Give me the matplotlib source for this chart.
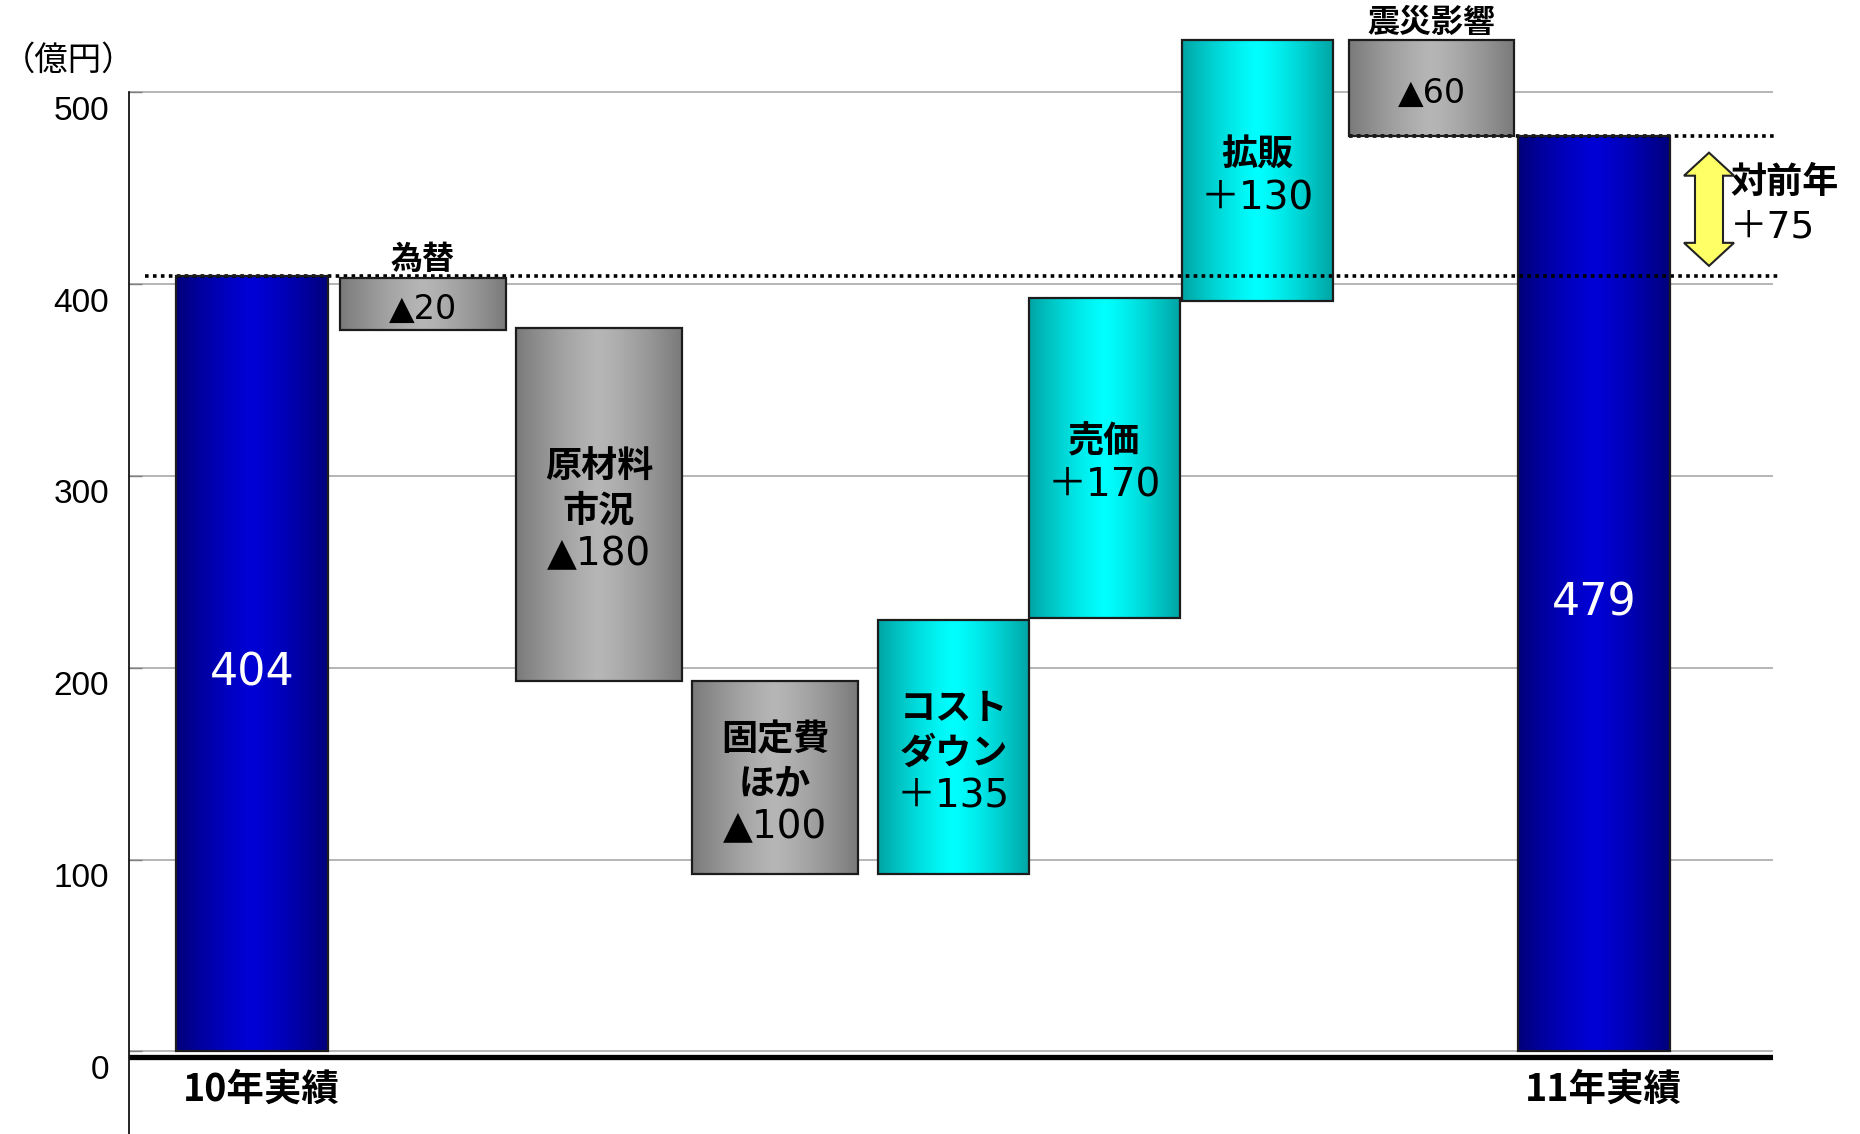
import matplotlib
matplotlib.use('Agg')
import matplotlib.pyplot as plt
import numpy as np
from matplotlib.patches import Rectangle, Polygon
from matplotlib.transforms import ScaledTranslation
from matplotlib.colors import to_rgb

# ---------------- data ----------------
categories = ['10年実績', '為替', '原材料市況', '固定費ほか', 'コストダウン',
              '売価', '拡販', '震災影響', '11年実績']
bar_low = [0, 376, 193, 92.5, 92.5, 226, 391, 477, 0]
bar_high = [404, 403, 377, 193, 225, 393, 527, 527, 477]
kinds = ['total', 'neg', 'neg', 'neg', 'pos', 'pos', 'pos', 'neg', 'total']
value_labels = ['404', '▲20', '▲180', '▲100', '＋135', '＋170', '＋130', '▲60', '479']
inner_names = ['', '', '原材料\n市況', '固定費\nほか', 'コスト\nダウン', '売価', '拡販', '', '']
top_names = ['', '為替', '', '', '', '', '', '震災影響', '']
bottom_names = ['10年実績', '', '', '', '', '', '', '', '11年実績']
yoy_title = '対前年'
yoy_value = '＋75'
y_ticks = [0, 100, 200, 300, 400, 500]
unit_label = '（億円）'

# ---------------- layout (pixels inside axes) ----------------
x_center = [123, 294, 470, 646, 824.5, 975.5, 1128.5, 1302.5, 1465]
widths = [152, 166, 166, 166, 151, 151, 151, 165, 152]

JP = ['Noto Sans CJK JP', 'DejaVu Sans']
NUM = ['DejaVu Sans', 'Noto Sans CJK JP']

palette = {
    'total': ('#00007a', '#0000d6'),
    'neg': ('#7a7a7a', '#b6b6b6'),
    'pos': ('#00a4a4', '#00ffff'),
}

fig = plt.figure(figsize=(18.6, 11.34), dpi=100)
ax = fig.add_axes([129 / 1860, 0, (1773 - 129) / 1860, 1])
ax.set_xlim(0, 1644)
ax.set_ylim(-43.1, 548.1)


def gradient(edge, center, n=256):
    t = np.linspace(0, 1, n)
    prof = 1 - np.clip(np.abs(t - 0.5) / 0.5, 0, 1) ** 1.3
    e = np.array(to_rgb(edge))
    c = np.array(to_rgb(center))
    row = e[None, :] + (c - e)[None, :] * prof[:, None]
    return row[None, :, :]


# gridlines
ax.hlines(y_ticks, 0, 1644, colors='#b0b0b0', lw=1.3, zorder=1)
# thick base line just under zero
base_tr = ax.get_yaxis_transform() + ScaledTranslation(0, -6 / 100, fig.dpi_scale_trans)
ax.plot([0, 1], [0, 0], color='black', lw=3.8, transform=base_tr, zorder=4,
        solid_capstyle='butt')

for i in range(len(categories)):
    xc, w = x_center[i], widths[i]
    lo, hi = bar_low[i], bar_high[i]
    x0, x1 = xc - w / 2, xc + w / 2
    edge, center = palette[kinds[i]]
    ax.imshow(gradient(edge, center), extent=[x0, x1, lo, hi], aspect='auto',
              interpolation='bilinear', zorder=2)
    ax.add_patch(Rectangle((x0, lo), w, hi - lo, facecolor='none',
                           edgecolor='#1c1c1c', lw=1.6, zorder=3))
    mid = (lo + hi) / 2
    lines = []
    shift = -6
    if inner_names[i]:
        for ln in inner_names[i].split('\n'):
            lines.append((ln, JP, 'bold', 26, 'black'))
        lines.append((value_labels[i], NUM, 'normal', 28, 'black'))
    elif kinds[i] == 'total':
        lines.append((value_labels[i], NUM, 'normal', 32, 'white'))
        shift = -9
    else:
        lines.append((value_labels[i], NUM, 'normal', 24, 'black'))
        shift = -5
    n = len(lines)
    for k, (txt, fam, wt, fs, col) in enumerate(lines):
        off = -(k - (n - 1) / 2) * 44 + shift
        ax.annotate(txt, xy=(xc, mid), xytext=(0, off), textcoords='offset pixels',
                    ha='center', va='center', family=fam, fontweight=wt,
                    fontsize=fs, color=col, zorder=5)
    if top_names[i]:
        ax.annotate(top_names[i], xy=(xc, hi), xytext=(0, 18), textcoords='offset pixels',
                    ha='center', va='center', family=JP, fontweight='bold',
                    fontsize=23, color='black', zorder=5, annotation_clip=False)
    if bottom_names[i]:
        ax.annotate(bottom_names[i], xy=(xc, 0), xytext=(9, -38), textcoords='offset pixels',
                    ha='center', va='center', family=JP, fontweight='bold',
                    fontsize=27, color='black', zorder=5)

# dotted reference lines
ax.plot([16, 1649], [bar_high[0], bar_high[0]], color='black', lw=2.6,
        linestyle=(0, (1, 1.2)), zorder=2.5, clip_on=False)
ax.plot([x_center[7] - widths[7] / 2, 1649], [bar_high[8], bar_high[8]], color='black',
        lw=2.6, linestyle=(0, (1, 1.2)), zorder=2.5, clip_on=False)

# year-over-year double arrow
ax_top = bar_high[8] - 8.5
ax_bot = bar_high[0] + 5.5
cx, hw, sw, hl = 1580, 25, 14, 12
pts = [(cx, ax_top), (cx + hw, ax_top - hl), (cx + sw, ax_top - hl),
       (cx + sw, ax_bot + hl), (cx + hw, ax_bot + hl), (cx, ax_bot),
       (cx - hw, ax_bot + hl), (cx - sw, ax_bot + hl), (cx - sw, ax_top - hl),
       (cx - hw, ax_top - hl)]
ax.add_patch(Polygon(pts, closed=True, facecolor='#ffff66', edgecolor='#222222',
                     lw=1.5, zorder=5, clip_on=False))
ymid = (bar_high[0] + bar_high[8]) / 2
ax.annotate(yoy_title, xy=(1601, ymid), xytext=(0, 24), textcoords='offset pixels',
            ha='left', va='center', family=JP, fontsize=26, fontweight='bold',
            zorder=5, annotation_clip=False)
ax.annotate(yoy_value, xy=(1601, ymid), xytext=(0, -21), textcoords='offset pixels',
            ha='left', va='center', family=NUM, fontsize=27, zorder=5,
            annotation_clip=False)

# y-axis
for s in ['top', 'right', 'bottom']:
    ax.spines[s].set_visible(False)
ax.spines['left'].set_bounds(-43.1, 500)
ax.spines['left'].set_linewidth(1.2)
ax.set_xticks([])
ax.set_yticks(y_ticks)
ax.tick_params(axis='y', direction='in', length=9, width=1.0, color='#808080',
               labelleft=False)
for v in y_ticks:
    ax.annotate(str(v), xy=(0, v), xytext=(-20, -19), textcoords='offset pixels',
                ha='right', va='center', family=['Liberation Sans'], fontsize=24,
                annotation_clip=False)

fig.text(2 / 1860, 1 - 60 / 1134, unit_label, ha='left', va='center',
         family=JP, fontsize=24)

fig.savefig('out.png', dpi=100)
